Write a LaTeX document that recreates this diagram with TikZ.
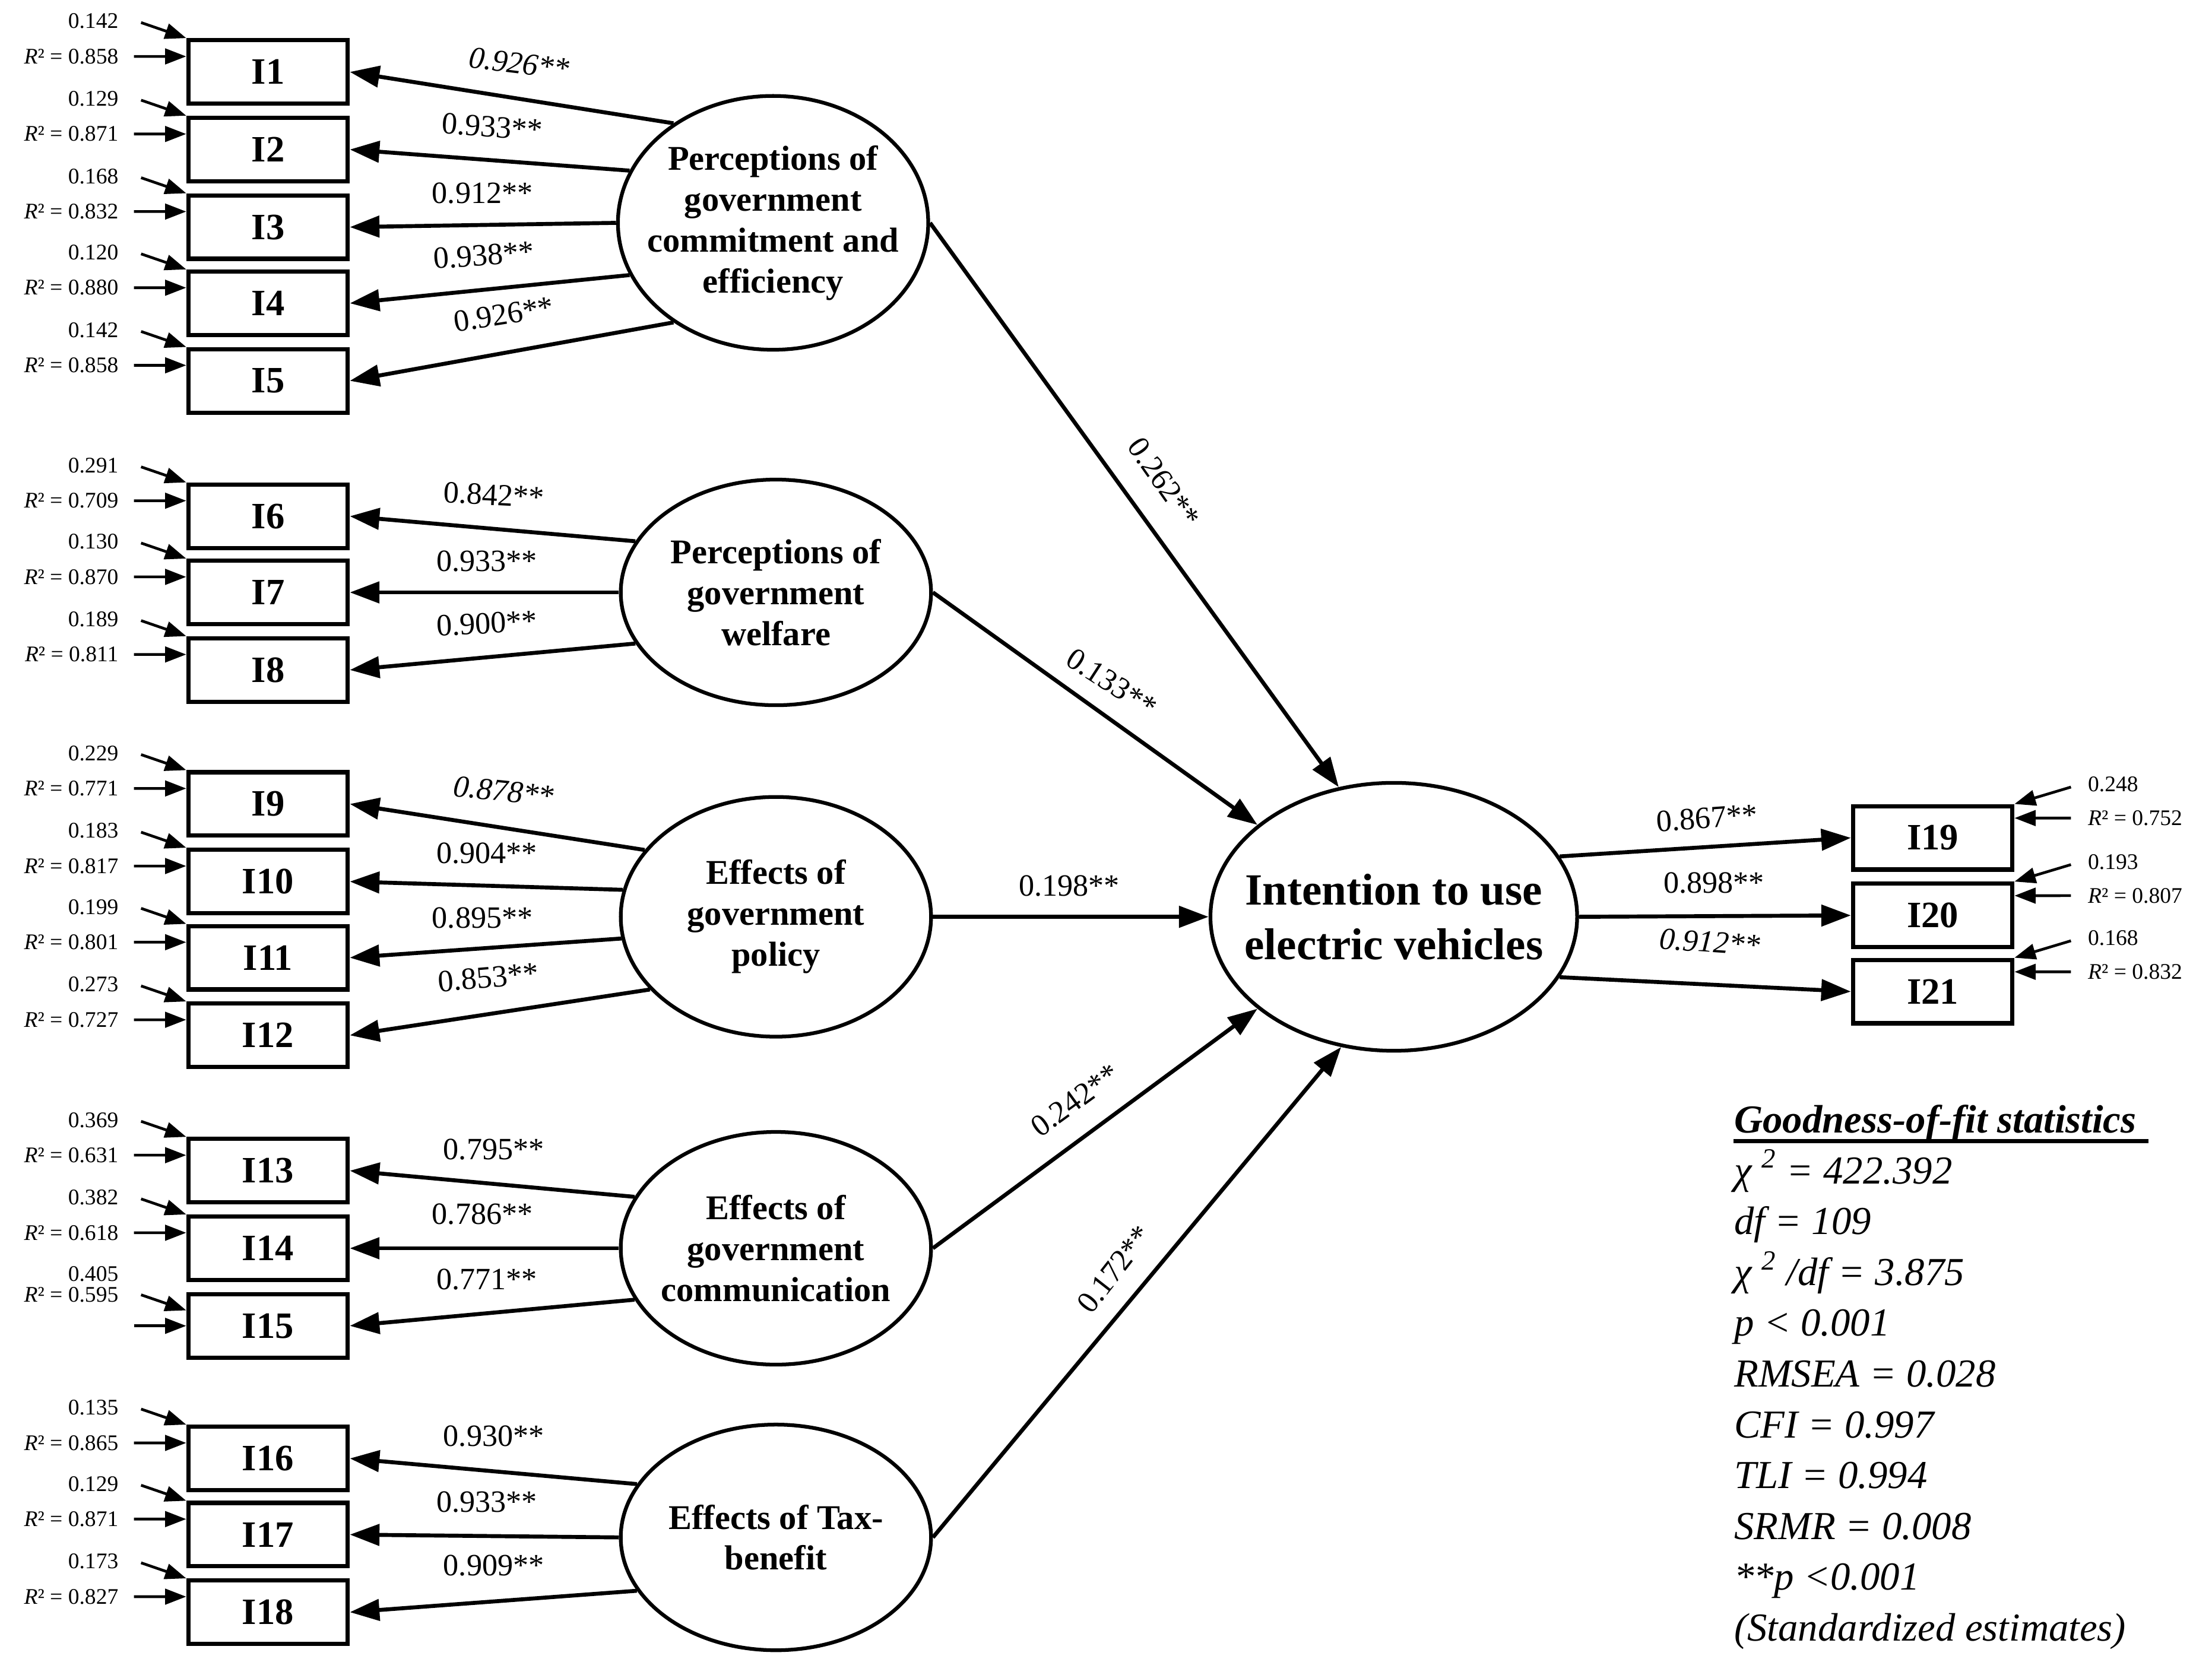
\documentclass[tikz,border=0pt]{standalone}
\usepackage{fontspec}
\setmainfont{Liberation Serif}
\usetikzlibrary{arrows.meta,shapes.geometric}
\begin{document}
\begin{tikzpicture}[x=0.02cm,y=-0.02cm,
  box/.style={draw,line width=1.7pt,minimum width=2.26cm,minimum height=0.9cm,font=\fontsize{15}{15}\selectfont\bfseries,inner sep=0pt},
  lat/.style={draw,ellipse,line width=1.5pt,minimum width=4.4cm,inner sep=0pt},
  ltxt/.style={align=center,font=\fontsize{14}{16.5}\selectfont\bfseries,inner sep=0pt},
  arr/.style={line width=1.6pt,-{Triangle[length=0.42cm,width=0.3cm]}},
  earr/.style={line width=1.1pt,-{Triangle[length=0.3cm,width=0.22cm]}},
  lab/.style={font=\fontsize{12.5}{13}\selectfont,inner sep=1pt},
  sm/.style={font=\fontsize{9}{10}\selectfont,inner sep=1pt}]
\useasboundingbox (0,0) rectangle (1568,1176);
% left boxes
\foreach \n/\y/\e/\r in {1/51/0.142/0.858,2/106/0.129/0.871,3/161/0.168/0.832,4/215/0.120/0.880,5/270/0.142/0.858,
 6/366/0.291/0.709,7/420/0.130/0.870,8/475/0.189/0.811,
 9/570/0.229/0.771,10/625/0.183/0.817,11/679/0.199/0.801,12/734/0.273/0.727,
 13/830/0.369/0.631,14/885/0.382/0.618,16/1034/0.135/0.865,17/1088/0.129/0.871,18/1143/0.173/0.827}{
  \node[box] (i\n) at (190,\y) {I\n};
  \coordinate (ea\n) at (100,\y-35);
  \coordinate (eb\n) at (95,\y-11);
  \node[sm,anchor=east] at (86,\y-36) {\e};
  \node[sm,anchor=east] at (86,\y-11) {\textit{R}² = \r};
  \draw[earr] (ea\n) -- (i\n.north west);
  \draw[earr] (eb\n) -- ([yshift=0.22cm]i\n.west);
}
\node[box] (i15) at (190,940) {I15};
\coordinate (ea15) at (100,918);
\coordinate (eb15) at (95,940);
\node[sm,anchor=east] at (86,903) {0.405};
\node[sm,anchor=east] at (86,918) {\textit{R}² = 0.595};
\draw[earr] (ea15) -- ([yshift=0.22cm]i15.west);
\draw[earr] (eb15) -- (i15.west);
% latent
\node[lat,minimum height=3.6cm] (e1) at (548,158) {};
\node[ltxt] at (e1) {Perceptions of\\government\\commitment and\\efficiency};
\node[lat,minimum height=3.2cm] (e2) at (550,420) {};
\node[ltxt] at (e2) {Perceptions of\\government\\welfare};
\node[lat,minimum height=3.4cm] (e3) at (550,650) {};
\node[ltxt] at (e3) {Effects of\\government\\policy};
\node[lat,minimum height=3.3cm] (e4) at (550,885) {};
\node[ltxt] at (e4) {Effects of\\government\\communication};
\node[lat,minimum height=3.2cm] (e5) at (550,1090) {};
\node[ltxt] at (e5) {Effects of Tax-\\benefit};
\node[lat,minimum width=5.2cm,minimum height=3.8cm] (c) at (988,650) {};
\node[ltxt,font=\fontsize{18}{22}\selectfont\bfseries] at (c) {Intention to use\\electric vehicles};
% right boxes
\foreach \n/\y/\e/\r in {19/594/0.248/0.752,20/649/0.193/0.807,21/703/0.168/0.832}{
  \node[box] (i\n) at (1370,\y) {I\n};
  \coordinate (ea\n) at (1468,\y-36);
  \coordinate (eb\n) at (1468,\y-14);
  \node[sm,anchor=west] at (1478,\y-38) {\e};
  \node[sm,anchor=west] at (1478,\y-14) {\textit{R}² = \r};
  \draw[earr] (ea\n) -- (i\n.north east);
  \draw[earr] (eb\n) -- ([yshift=0.28cm]i\n.east);
}
% loadings
\foreach \a/\g/\b in {e1/135/i1,e1/160/i2,e1/180/i3,e1/200/i4,e1/225/i5,e2/160/i6,e2/180/i7,e2/200/i8,e3/153/i9,e3/170/i10,e3/188/i11,e3/210/i12,e4/160/i13,e4/180/i14,e4/200/i15,e5/159/i16,e5/180/i17,e5/201/i18}
  \draw[arr] (\a.\g) -- (\b.east);
\draw[arr] (c.20) -- (i19.west);
\draw[arr] (c.0) -- (i20.west);
\draw[arr] (c.340) -- (i21.west);
\draw[arr] (e1.east) -- (c.113);
\draw[arr] (e2.east) -- (c.146);
\draw[arr] (e3.east) -- (c.west);
\draw[arr] (e4.east) -- (c.214);
\draw[arr] (e5.east) -- (c.248);
% loading labels
\node[lab,rotate=-7] at (368,45) {\textit{0.926**}};
\node[lab,rotate=-4] at (349,90) {0.933**};
\node[lab] at (342,137) {0.912**};
\node[lab,rotate=4] at (343,181) {0.938**};
\node[lab,rotate=9] at (357,223) {0.926**};
\node[lab,rotate=-3] at (350,351) {0.842**};
\node[lab] at (345,398) {0.933**};
\node[lab,rotate=3] at (345,442) {0.900**};
\node[lab,rotate=-6] at (357,561) {\textit{0.878**}};
\node[lab] at (345,605) {0.904**};
\node[lab] at (342,651) {0.895**};
\node[lab,rotate=5] at (346,693) {0.853**};
\node[lab] at (350,815) {0.795**};
\node[lab] at (342,861) {0.786**};
\node[lab] at (345,907) {0.771**};
\node[lab] at (350,1018) {0.930**};
\node[lab] at (345,1065) {0.933**};
\node[lab] at (350,1110) {0.909**};
\node[lab,rotate=-55] at (825,342) {0.262**};
\node[lab,rotate=-33] at (788,484) {0.133**};
\node[lab] at (758,628) {0.198**};
\node[lab,rotate=36] at (762,780) {0.242**};
\node[lab,rotate=52] at (790,900) {0.172**};
\node[lab,rotate=4] at (1210,580) {0.867**};
\node[lab] at (1215,626) {0.898**};
\node[lab,rotate=-4] at (1212,668) {\textit{0.912**}};
% fit statistics
\node[anchor=north west,align=left,inner sep=0pt,font=\fontsize{16}{20.5}\selectfont\itshape] (fit) at (1229,783)
{\textbf{Goodness-of-fit statistics}\\
χ \textsuperscript{2} = 422.392\\
df = 109\\
χ \textsuperscript{2} /df = 3.875\\
p < 0.001\\
RMSEA = 0.028\\
CFI = 0.997\\
TLI = 0.994\\
SRMR = 0.008\\
**p <0.001\\
(Standardized estimates)};
\draw[line width=1.5pt] (1229,809) -- (1523,809);
\end{tikzpicture}
\end{document}
